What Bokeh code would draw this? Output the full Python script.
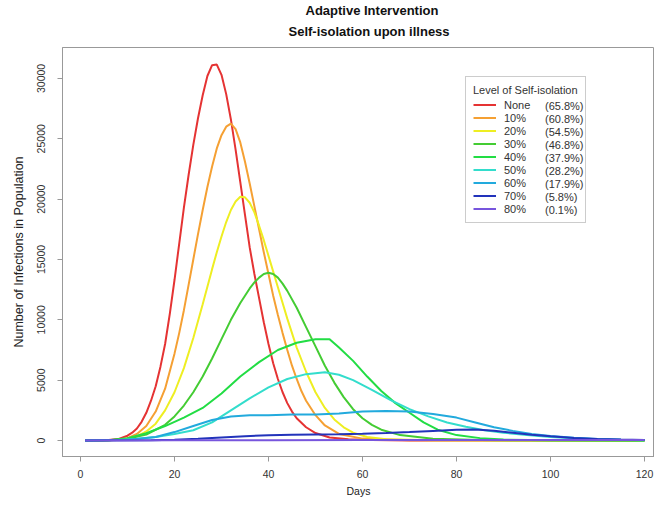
from bokeh.plotting import figure
from bokeh.models import Range1d, FixedTicker, Legend, LegendItem, Title
from bokeh.embed import file_html
from bokeh.resources import INLINE

FONT = "Liberation Sans"

title_lines = ["Adaptive Intervention", "Self-isolation upon illness"]
levels = ["None", "10%", "20%", "30%", "40%", "50%", "60%", "70%", "80%"]
shares = ["(65.8%)", "(60.8%)", "(54.5%)", "(46.8%)", "(37.9%)",
          "(28.2%)", "(17.9%)", "(5.8%)", "(0.1%)"]
colors = ["#E53333", "#F5A033", "#EEEE22", "#44CC33", "#22DD44",
          "#33DDCC", "#22AADD", "#2233BB", "#7755DD"]

x_ticks = [0, 20, 40, 60, 80, 100, 120]
y_ticks = [0, 5000, 10000, 15000, 20000, 25000, 30000]

days_none = [1, 4, 6, 8, 10, 11, 12, 13, 14, 15, 16, 17, 18, 19, 20, 21, 22, 23, 24, 25, 26, 27, 28, 29, 30,
             31, 32, 33, 34, 35, 36, 37, 38, 39, 40, 41, 42, 43, 44, 45, 46, 48, 50, 53, 57, 62, 70, 120]
inf_none = [0, 10, 40, 120, 400, 650, 1000, 1550, 2300, 3300, 4500, 6100, 8000, 10500, 13300, 16300, 19300,
            22000, 24500, 26700, 28600, 30200, 31100, 31150, 30300, 28700, 26600, 24100, 21400, 18700, 16000,
            13800, 11800, 9800, 8000, 6400, 5100, 4000, 3100, 2400, 1850, 1100, 620, 250, 100, 40, 10, 0]

days_10 = [1, 6, 8, 10, 12, 14, 16, 18, 20, 21, 22, 23, 24, 25, 26, 27, 28, 29, 30, 31, 32, 33, 34, 35, 36,
           37, 38, 39, 40, 41, 42, 43, 44, 45, 46, 47, 48, 50, 52, 55, 60, 70, 120]
inf_10 = [0, 25, 60, 200, 550, 1200, 2400, 4300, 7200, 8900, 10800, 12900, 15000, 17100, 19100, 21000, 22700,
          24200, 25300, 26000, 26250, 25800, 24700, 23100, 21300, 19400, 17500, 15600, 13800, 12000, 10400,
          8900, 7500, 6200, 5100, 4100, 3300, 2100, 1250, 550, 160, 25, 0]

days_20 = [1, 8, 10, 12, 14, 16, 18, 20, 22, 24, 26, 28, 29, 30, 31, 32, 33, 34, 35, 36, 37, 38, 39, 40,
           42, 44, 46, 48, 50, 52, 54, 56, 58, 61, 65, 75, 120]
inf_20 = [0, 50, 150, 350, 750, 1400, 2500, 4000, 6000, 8500, 11300, 14200, 15600, 16900, 18100, 19100, 19800,
          20200, 20150, 19700, 18900, 17800, 16600, 15300, 12700, 10100, 7700, 5700, 4000, 2700, 1750, 1100,
          650, 300, 110, 20, 0]

days_30 = [1, 6, 10, 14, 18, 20, 22, 24, 26, 28, 30, 32, 34, 36, 37, 38, 39, 40, 41, 42, 43, 44, 46, 48,
           50, 52, 54, 56, 58, 60, 62, 64, 68, 75, 85, 120]
inf_30 = [0, 30, 150, 500, 1300, 2000, 2900, 4000, 5300, 6800, 8400, 10000, 11400, 12600, 13100, 13500, 13800,
          13900, 13800, 13500, 13000, 12400, 11000, 9400, 7800, 6200, 4800, 3600, 2600, 1850, 1300, 900, 450,
          150, 40, 0]

days_40 = [1, 6, 10, 14, 18, 22, 26, 30, 34, 38, 42, 46, 50, 53, 55, 58, 61, 64, 67, 70, 73, 76, 80, 85,
           90, 100, 120]
inf_40 = [0, 30, 200, 600, 1200, 1900, 2700, 3900, 5300, 6500, 7500, 8100, 8400, 8400, 7700, 6600, 5300, 4100,
          3100, 2300, 1500, 900, 450, 200, 80, 20, 0]

days_50 = [1, 8, 12, 16, 20, 24, 28, 32, 36, 40, 44, 48, 52, 55, 58, 62, 66, 70, 74, 78, 82, 86, 90, 95,
           100, 105, 110, 115, 120]
inf_50 = [0, 40, 130, 300, 550, 850, 1500, 2500, 3500, 4400, 5100, 5500, 5650, 5450, 5000, 4200, 3350, 2600,
          2000, 1500, 1150, 850, 650, 450, 300, 190, 110, 60, 30]

days_60 = [1, 10, 16, 20, 24, 28, 32, 36, 40, 45, 50, 55, 60, 65, 70, 75, 80, 84, 88, 92, 96, 100, 105,
           110, 115, 120]
inf_60 = [0, 60, 300, 700, 1200, 1700, 2000, 2100, 2100, 2150, 2150, 2250, 2400, 2450, 2400, 2200, 1900, 1500,
          1100, 800, 550, 380, 230, 130, 70, 40]

days_70 = [1, 15, 20, 25, 30, 35, 40, 45, 50, 55, 60, 65, 70, 75, 80, 84, 88, 92, 96, 100, 105, 110, 115, 120]
inf_70 = [0, 20, 60, 150, 260, 360, 430, 480, 500, 520, 560, 620, 700, 800, 900, 920, 820, 650, 480, 350, 220,
          130, 80, 50]

days_80 = [1, 20, 40, 60, 80, 100, 120]
inf_80 = [0, 15, 30, 45, 50, 45, 35]

series_days = [days_none, days_10, days_20, days_30, days_40, days_50, days_60, days_70, days_80]
series_inf = [inf_none, inf_10, inf_20, inf_30, inf_40, inf_50, inf_60, inf_70, inf_80]

p = figure(width=654, height=499, output_backend="svg", toolbar_location=None,
           x_range=Range1d(-3.83, 122.13), y_range=Range1d(-1322, 32562),
           title=title_lines[0],
           min_border_left=62, min_border_right=0, min_border_top=47, min_border_bottom=42)

p.title.align = "left"
p.title.offset = 243
p.title.text_font = FONT
p.title.text_font_size = "13px"
p.title.text_font_style = "bold"
p.title.text_color = "#111111"
p.title.standoff = 0
p.title.vertical_align = "bottom"
t1 = Title(text=title_lines[1], align="left", offset=226, text_font=FONT,
           text_font_size="13px", text_font_style="bold", text_color="#111111",
           standoff=13, vertical_align="top")
p.add_layout(t1, "above")

p.xgrid.visible = False
p.ygrid.visible = False
p.outline_line_color = "#999999"
p.outline_line_width = 1

for ax in (p.xaxis[0], p.yaxis[0]):
    ax.axis_line_color = "#999999"
    ax.major_tick_line_color = "#999999"
    ax.minor_tick_line_color = None
    ax.major_tick_in = 0
    ax.major_tick_out = 5
    ax.major_label_text_font = FONT
    ax.major_label_text_font_size = "10.5px"
    ax.major_label_text_color = "#333333"
    ax.axis_label_text_font = FONT
    ax.axis_label_text_font_style = "normal"
    ax.axis_label_text_color = "#222222"

p.xaxis.ticker = FixedTicker(ticks=x_ticks)
p.yaxis.ticker = FixedTicker(ticks=y_ticks)
p.xaxis.axis_label = "Days"
p.yaxis.axis_label = "Number of Infections in Population"
p.xaxis.axis_label_text_font_size = "10.5px"
p.yaxis.axis_label_text_font_size = "12.5px"
p.yaxis.major_label_orientation = "vertical"
p.xaxis.major_label_standoff = 8
p.yaxis.major_label_standoff = 12
p.xaxis.axis_label_standoff = 4
p.yaxis.axis_label_standoff = 9

renderers = []
for d, v, c in zip(series_days, series_inf, colors):
    r = p.line(d, v, line_color=c, line_width=2)
    renderers.append(r)

items1 = [LegendItem(label=lab, renderers=[r]) for lab, r in zip(levels, renderers)]
items2 = [LegendItem(label=s, renderers=[r]) for s, r in zip(shares, renderers)]

common = dict(label_text_font=FONT, label_text_font_size="11px", label_text_color="#333333",
              label_height=13, glyph_height=13, spacing=0, padding=7, margin=0,
              title_text_font=FONT, title_text_font_size="11px", title_text_color="#333333",
              title_text_font_style="normal", title_standoff=2)

leg1 = Legend(items=items1, location=(403, 233), title="Level of Self-isolation",
              glyph_width=23, label_standoff=8, border_line_color="#999999",
              background_fill_color="white", background_fill_alpha=1.0, **common)
leg2 = Legend(items=items2, location=(476, 233), title=" ",
              glyph_width=0, label_standoff=0, border_line_alpha=0,
              background_fill_alpha=0, **common)
p.add_layout(leg1, "center")
p.add_layout(leg2, "center")

open("out.html", "w").write(file_html(p, INLINE))
